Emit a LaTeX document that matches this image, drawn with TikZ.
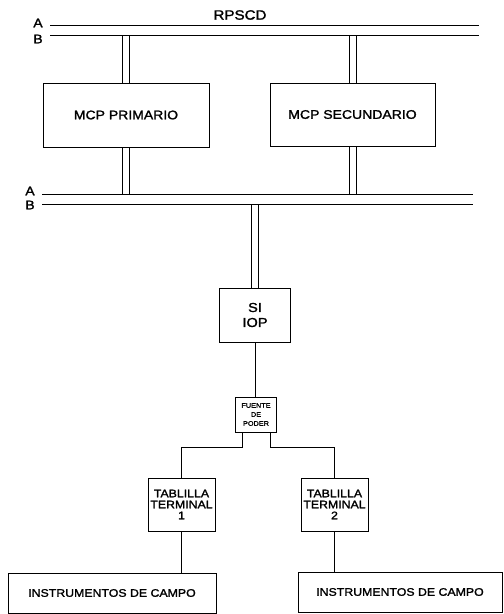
\documentclass[tikz,border=0pt]{standalone}
\usepackage{fontspec}
\setmainfont{Liberation Sans}[FakeStretch=1.12, FakeBold=1.6]
\newcommand\mcpfont{\fontsize{12.5}{14}\selectfont}
\newcommand\rpscdfont{\fontsize{13.5}{15}\selectfont}
\newcommand\siopfont{\fontsize{13}{15}\selectfont}
\newcommand\boxfont{\fontsize{11}{11}\selectfont}
\newcommand\fuentefont{\fontsize{6.5}{9}\selectfont}
\begin{document}
\begin{tikzpicture}[x=1pt,y=-1pt,line width=0.9pt,
  unitbox/.style n args={2}{draw, minimum width=#1pt, minimum height=#2pt,
    align=center, inner sep=0pt},
  buslabel/.style={font=\mcpfont, inner sep=0pt}]
\useasboundingbox (0,0) rectangle (504,614);
% Upper bus
\node[font=\rpscdfont] (rpscd) at (240,15) {RPSCD};
\node[buslabel] (labA1) at (38,23) {A};
\node[buslabel] (labB1) at (38,39) {B};
\coordinate (busA1w) at (50,25);
\coordinate (busA1e) at (479,25);
\coordinate (busB1w) at (50,35);
\coordinate (busB1e) at (479,35);
\draw (busA1w) -- (busA1e);
\draw (busB1w) -- (busB1e);
% Lower bus
\node[buslabel] (labA2) at (30,191) {A};
\node[buslabel] (labB2) at (30,205) {B};
\coordinate (busA2w) at (42,194);
\coordinate (busA2e) at (473,194);
\coordinate (busB2w) at (42,204);
\coordinate (busB2e) at (473,204);
\draw (busA2w) -- (busA2e);
\draw (busB2w) -- (busB2e);
% Processors
\node[unitbox={166}{64}, font=\mcpfont] (pri) at (126,115) {MCP PRIMARIO};
\node[unitbox={165}{63}, font=\mcpfont] (sec) at (352.5,114.5) {MCP SECUNDARIO};
\node[unitbox={71}{54}, font=\siopfont] (siop) at (255,315) {SI\\IOP};
% Field side
\node[unitbox={41}{35}, font=\fuentefont] (fuente) at (256,414.5) {FUENTE\\DE\\PODER};
\node[unitbox={67}{53}, font=\boxfont] (tab1) at (181.5,504.5) {TABLILLA\\TERMINAL\\1};
\node[unitbox={67}{53}, font=\boxfont] (tab2) at (334.5,504.5) {TABLILLA\\TERMINAL\\2};
\node[unitbox={208}{40}, font=\boxfont] (inst1) at (112,593) {INSTRUMENTOS DE CAMPO};
\node[unitbox={204}{40}, font=\boxfont] (inst2) at (400,592) {INSTRUMENTOS DE CAMPO};
% Double links to the buses
\foreach \s in {-3.5,3.5} {
  \draw ([xshift=\s pt]pri.north) -- ([xshift=\s pt]pri.north |- busB1w);
  \draw ([xshift=\s pt]sec.north) -- ([xshift=\s pt]sec.north |- busB1w);
  \draw ([xshift=\s pt]pri.south) -- ([xshift=\s pt]pri.south |- busA2w);
  \draw ([xshift=\s pt]sec.south) -- ([xshift=\s pt]sec.south |- busA2w);
  \draw ([xshift=\s pt]siop.north) -- ([xshift=\s pt]siop.north |- busB2w);
}
% Single links
\draw (siop.south) -- (siop.south |- fuente.north);
\draw ([xshift=-14pt]fuente.south) -- ++(0,15) -| (tab1.north);
\draw ([xshift=14pt]fuente.south) -- ++(0,15) -| (tab2.north);
\draw (tab1.south) -- (tab1.south |- inst1.north);
\draw (tab2.south) -- (tab2.south |- inst2.north);
\end{tikzpicture}
\end{document}
